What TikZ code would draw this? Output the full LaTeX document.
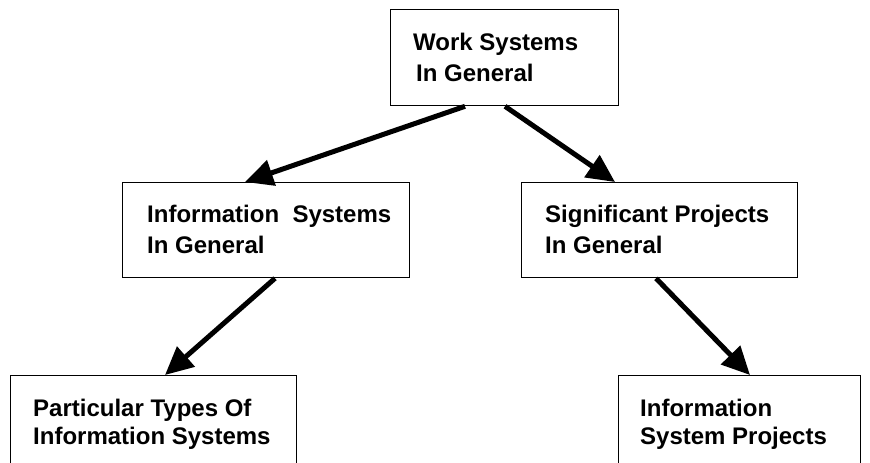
\documentclass[tikz,border=0pt]{standalone}
\usepackage{fontspec}
\setmainfont{Liberation Sans}
\usetikzlibrary{arrows.meta,calc}
\begin{document}
\begin{tikzpicture}[x=1pt,y=-1pt,
  box/.style={draw=black,line width=1.3pt,fill=white,rectangle,inner sep=0pt,anchor=north west},
  lbl/.style={anchor=north west,inner sep=0pt,align=left,font=\fontsize{24}{31}\selectfont\bfseries},
  lblb/.style={lbl,font=\fontsize{24}{28}\selectfont\bfseries},
  conn/.style={line width=5pt,-{Triangle[length=28pt,width=26pt]}}]
\useasboundingbox (0,0) rectangle (870,463);
\clip (0,0) rectangle (870,463);
\fill[white] (0,0) rectangle (870,463);
% boxes
\node[box,minimum width=228pt,minimum height=96pt] (top) at (390,9) {};
\node[box,minimum width=287pt,minimum height=95pt] (ml) at (122,182) {};
\node[box,minimum width=276pt,minimum height=95pt] (mr) at (521,182) {};
\node[box,minimum width=286pt,minimum height=100pt] (bl) at (10,375) {};
\node[box,minimum width=242pt,minimum height=100pt] (br) at (618,375) {};
% texts
\node[lbl] (ttop) at (413,33) {Work Systems\\\hspace*{3pt}In General};
\node[lbl] (tml) at (147,204.5) {Information\ \ Systems\\In General};
\node[lbl] (tmr) at (545,204.5) {Significant Projects\\In General};
\node[lblb] (tbl) at (33,398.5) {Particular Types Of\\Information Systems};
\node[lblb] (tbr) at (640,398.5) {Information\\System Projects};
% connectors
\draw[conn] ($(top.south west)+(75,0)$) -- ($(ml.north west)+(123,0)$);
\draw[conn] ($(top.south west)+(115,0)$) -- ($(mr.north west)+(94,0)$);
\draw[conn] ($(ml.south west)+(153,0)$) -- ($(bl.north west)+(155,0)$);
\draw[conn] ($(mr.south west)+(135,0)$) -- ($(br.north west)+(132,0)$);
\end{tikzpicture}
\end{document}
